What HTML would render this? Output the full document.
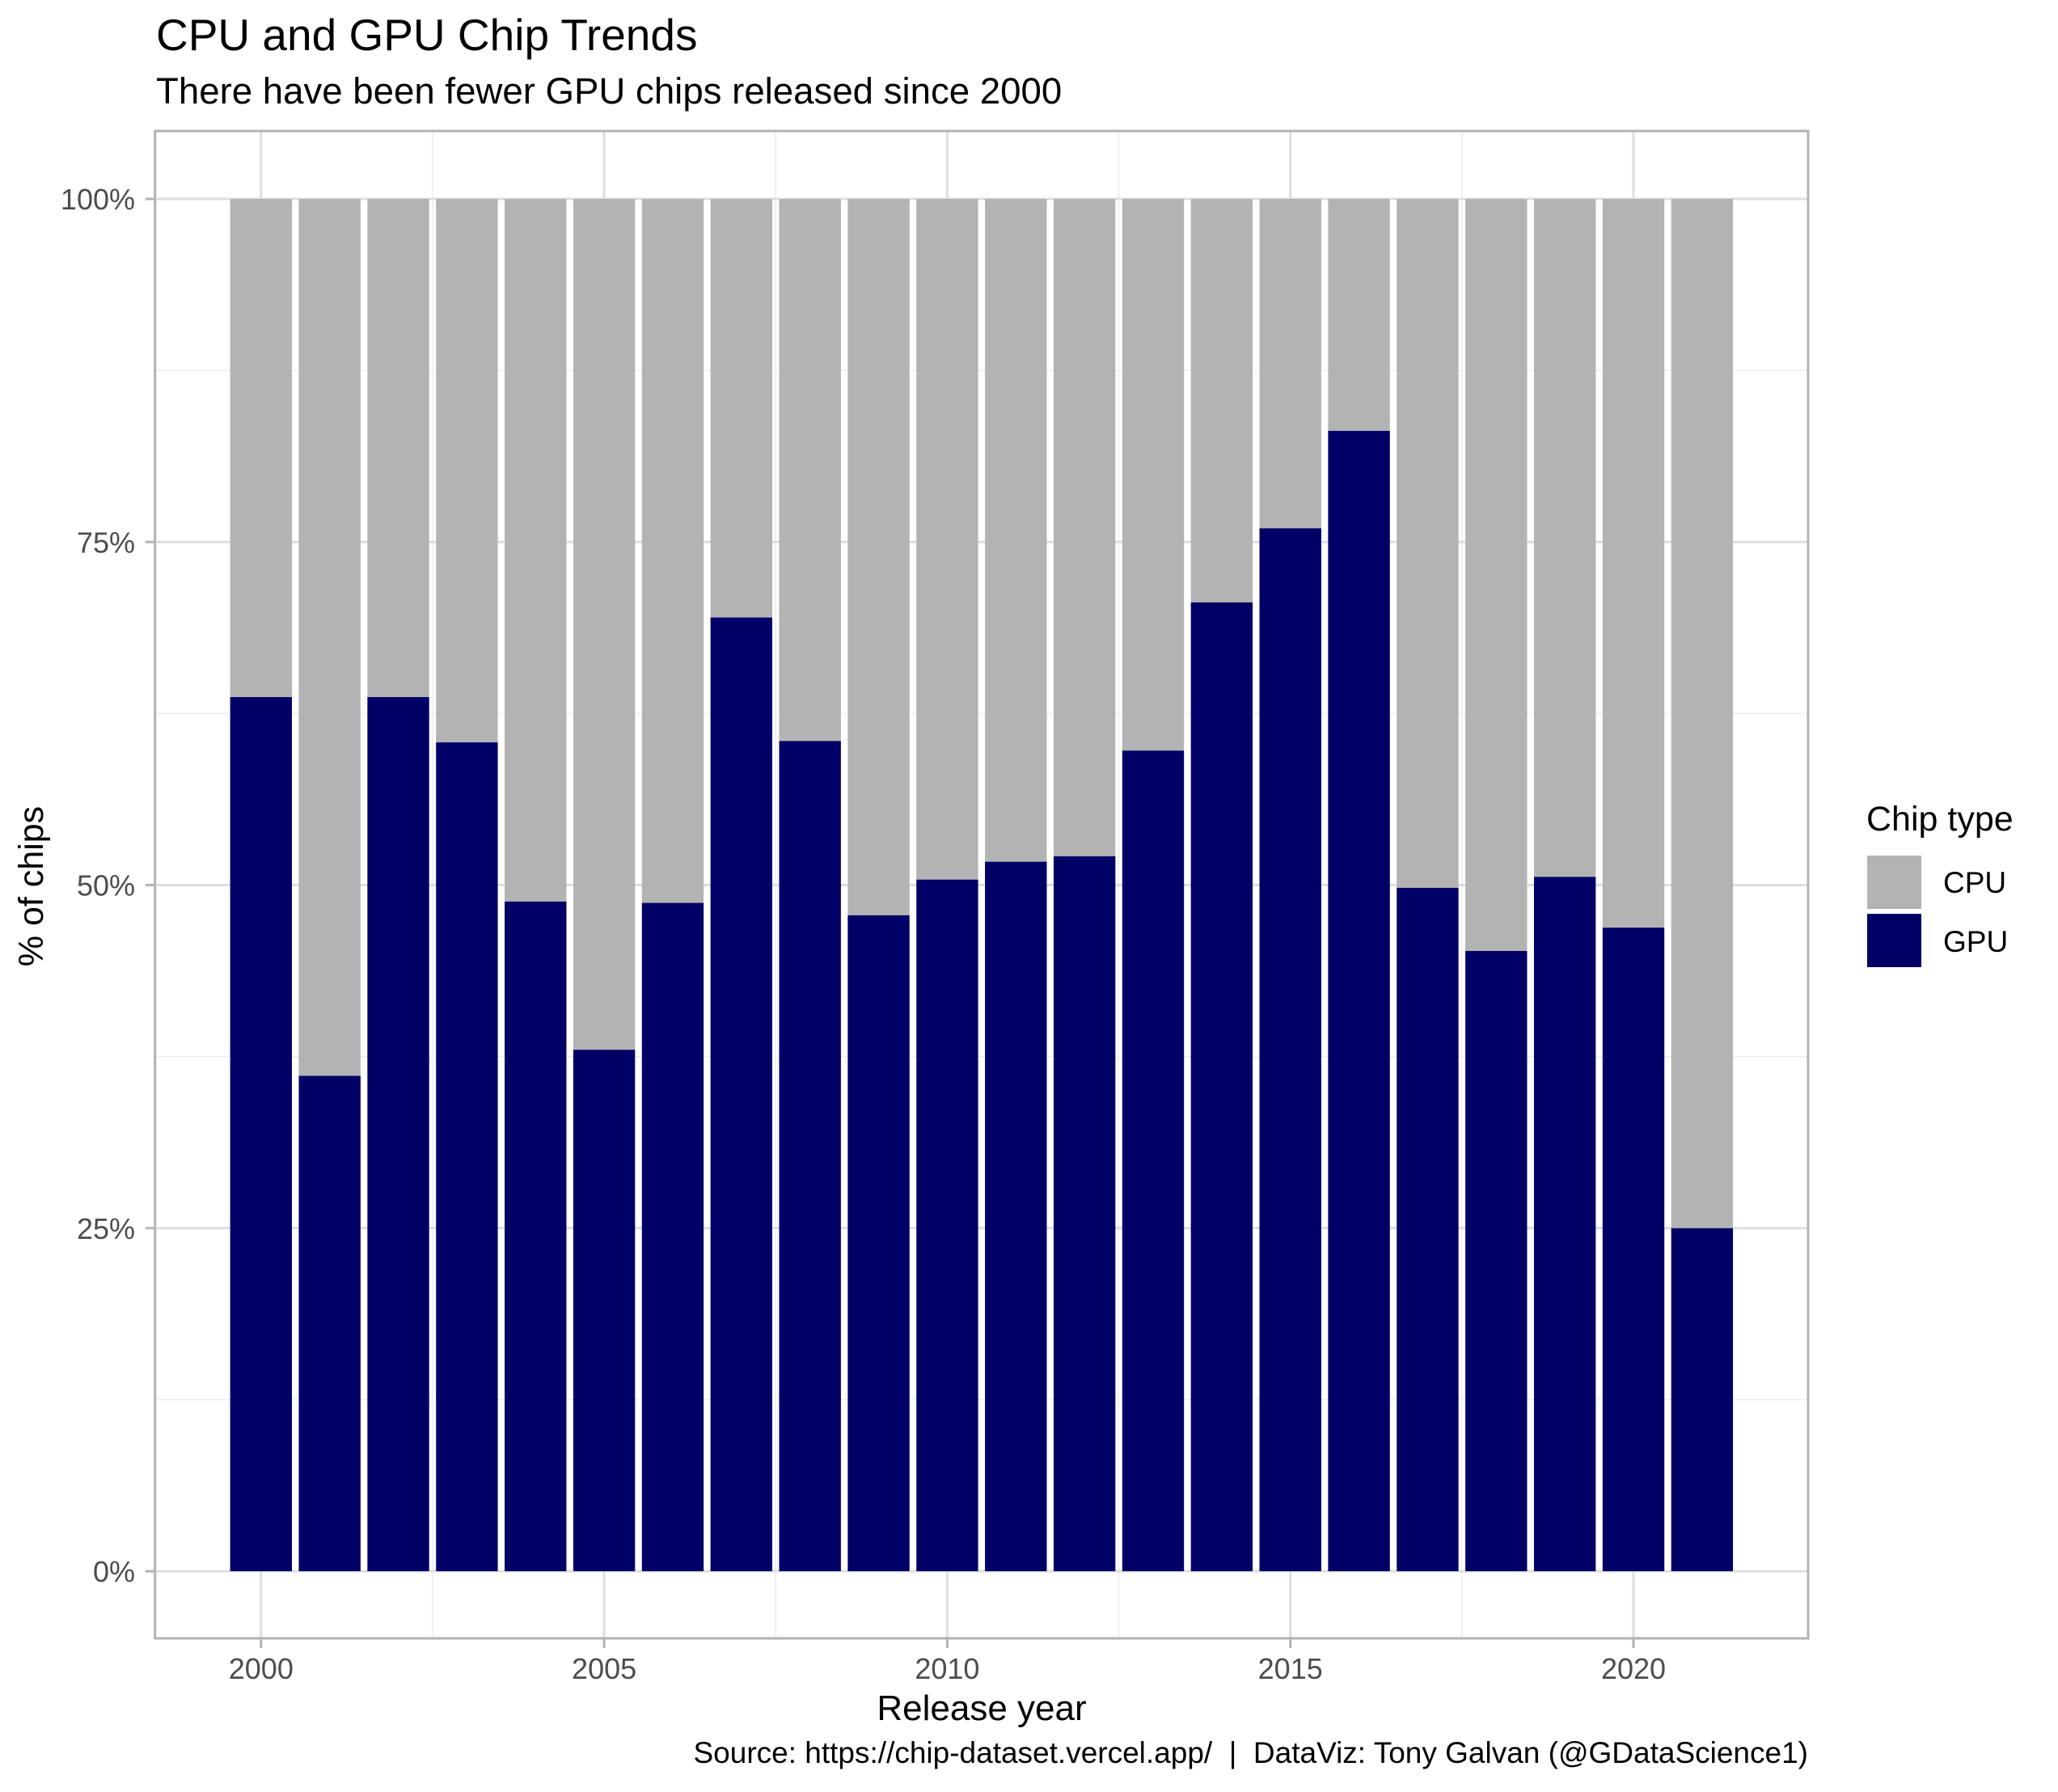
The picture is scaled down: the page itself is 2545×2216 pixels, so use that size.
<!DOCTYPE html>
<html><head><meta charset="utf-8"><style>
html,body{margin:0;padding:0;background:#fff;}
svg{display:block;font-family:"Liberation Sans",Arial,sans-serif;}
</style></head><body>
<svg id="chart" width="2545" height="2216" viewBox="0 0 2545 2216" xmlns="http://www.w3.org/2000/svg">
<text x="193" y="62" font-size="55" fill="#000">CPU and GPU Chip Trends</text>
<text x="193" y="128" font-size="45.6" fill="#000">There have been fewer GPU chips released since 2000</text>
<g id="grid"></g>
<g id="bars"></g>
<rect x="191.7" y="162" width="2044.3" height="1864" fill="none" stroke="#b3b3b3" stroke-width="3"/>
<g id="axes"></g>
<text x="1214" y="2127" font-size="44" text-anchor="middle" fill="#000">Release year</text>
<text transform="translate(53,1096) rotate(-90)" font-size="43" text-anchor="middle" fill="#000">% of chips</text>
<text x="2236" y="2180" font-size="37" text-anchor="end" fill="#000">Source: https://chip-dataset.vercel.app/&#160;&#160;|&#160;&#160;DataViz: Tony Galvan (@GDataScience1)</text>
<g>
<text x="2308" y="1027" font-size="43" fill="#000">Chip type</text>
<rect x="2309" y="1058" width="67" height="66" fill="#b3b3b3"/>
<text x="2403" y="1104" font-size="37" fill="#000">CPU</text>
<rect x="2309" y="1130" width="67" height="66" fill="#000066"/>
<text x="2403" y="1177" font-size="37" fill="#000">GPU</text>
</g>
</svg>
<script>
const years = [2000,2001,2002,2003,2004,2005,2006,2007,2008,2009,2010,2011,2012,2013,2014,2015,2016,2017,2018,2019,2020,2021];
const gpuShare = [63.7,36.1,63.7,60.4,48.8,38.0,48.7,69.5,60.5,47.8,50.4,51.7,52.1,59.8,70.6,76.0,83.1,49.8,45.2,50.6,46.9,25.0];
const yTicks = [0,25,50,75,100];
const yTickLabels = ["0%","25%","50%","75%","100%"];
const xTicks = [2000,2005,2010,2015,2020];

const NS="http://www.w3.org/2000/svg";
const PL=191.7, PR=2236, PT=162, PB=2026;
const X0=1998.455, PXY=84.86;
function xs(v){return PL+(v-X0)*PXY;}
function ys(p){return 1943-p*16.97;}
function mk(tag,attrs,parent){const e=document.createElementNS(NS,tag);for(const k in attrs)e.setAttribute(k,attrs[k]);parent.appendChild(e);return e;}
const grid=document.getElementById('grid'),bars=document.getElementById('bars'),axes=document.getElementById('axes');
for(let i=0;i<yTicks.length-1;i++){const y=ys((yTicks[i]+yTicks[i+1])/2);
 const l=mk('line',{x1:PL,x2:PR,y1:y,y2:y,stroke:'#ededed','stroke-width':1.5},grid);
 
 }
for(let i=0;i<xTicks.length-1;i++){const x=xs((xTicks[i]+xTicks[i+1])/2);
 const l=mk('line',{x1:x,x2:x,y1:PT,y2:PB,stroke:'#ededed','stroke-width':1.5},grid);
 
 }
yTicks.forEach((t,i)=>{const y=ys(t);
 const l=mk('line',{x1:PL,x2:PR,y1:y,y2:y,stroke:'#dedede','stroke-width':3},grid);
 
 
 const tk=mk('line',{x1:PL-12,x2:PL,y1:y,y2:y,stroke:'#b3b3b3','stroke-width':3},axes);
 
 
 const tx=mk('text',{x:167,y:y+13,'font-size':36,'text-anchor':'end',fill:'#4d4d4d'},axes);
 tx.textContent=yTickLabels[i];
 
 });
xTicks.forEach(t=>{const x=xs(t);
 const l=mk('line',{x1:x,x2:x,y1:PT,y2:PB,stroke:'#dedede','stroke-width':3},grid);
 
 
 const tk=mk('line',{x1:x,x2:x,y1:PB,y2:PB+12,stroke:'#b3b3b3','stroke-width':3},axes);
 
 
 const tx=mk('text',{x:x,y:2076,'font-size':36,'text-anchor':'middle',fill:'#4d4d4d'},axes);
 tx.textContent=t;
 
 });
const bw=0.9*PXY;
years.forEach((yr,i)=>{const x=xs(yr)-bw/2;const g=gpuShare[i];
 const c=mk('rect',{x:x,y:ys(100),width:bw,height:ys(g)-ys(100),fill:'#b3b3b3'},bars);
 
 
 const gp=mk('rect',{x:x,y:ys(g),width:bw,height:ys(0)-ys(g),fill:'#000066'},bars);
 
 });
</script>
</body></html>
